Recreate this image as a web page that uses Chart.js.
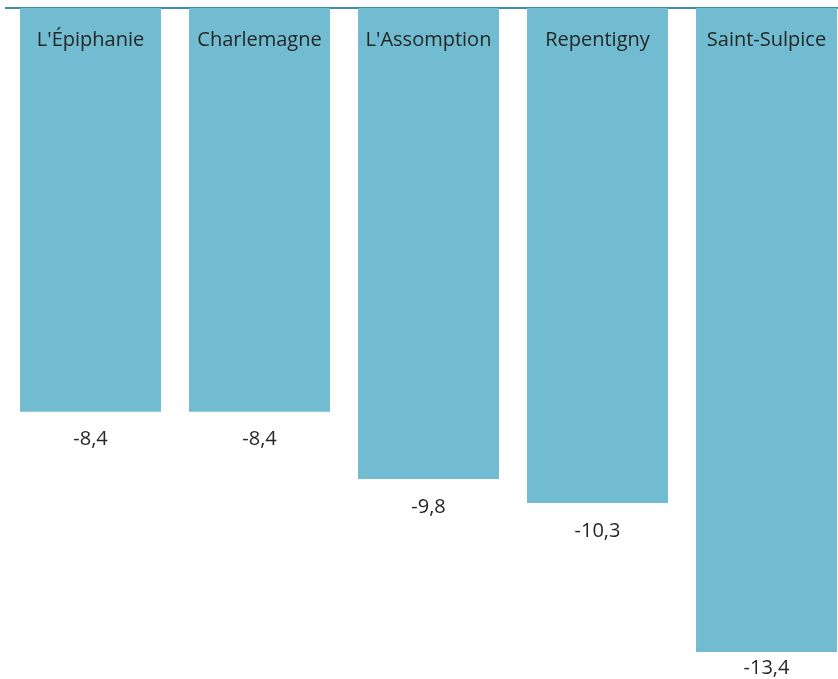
<!DOCTYPE html>
<html lang="fr">
<head>
    <meta charset="UTF-8">
    <title>Variation par municipalité</title>
    <script src="https://cdn.jsdelivr.net/npm/chart.js"></script>
    <style>
        body {
            margin: 0;
            overflow: hidden;
            background: #fff;
        }
        #wrap {
            width: 852px;
            height: 679px;
        }
    </style>
</head>
<body>
    <div id="wrap"><canvas id="chart" width="852" height="679"></canvas></div>

    <script>
        // Data
        const categories = ["L'Épiphanie", 'Charlemagne', "L'Assomption", 'Repentigny', 'Saint-Sulpice'];
        const values = [-8.4, -8.4, -9.8, -10.3, -13.4];

        const barColor = '#71bcd1';
        const axisColor = '#3d8ea3';
        const textColor = '#262626';
        const font = '20px "Open Sans", "Noto Sans", sans-serif';

        // names inside the bars, values under them
        const labelPlugin = {
            id: 'labels',
            afterDatasetsDraw(chart) {
                const ctx = chart.ctx;
                const meta = chart.getDatasetMeta(0);
                ctx.save();
                ctx.font = font;
                ctx.fillStyle = textColor;
                ctx.textAlign = 'center';
                ctx.textBaseline = 'middle';
                meta.data.forEach((bar, i) => {
                    ctx.fillText(categories[i], bar.x, bar.base + 32);
                    let y = Math.min(bar.y + 28, chart.height - 11);
                    ctx.fillText(String(values[i]).replace('.', ','), bar.x, y);
                });
                ctx.restore();
            }
        };

        new Chart(document.getElementById('chart'), {
            type: 'bar',
            data: {
                labels: categories,
                datasets: [{
                    data: values,
                    backgroundColor: barColor,
                    borderWidth: 0,
                    barPercentage: 0.834,
                    categoryPercentage: 1
                }]
            },
            options: {
                responsive: false,
                animation: false,
                layout: { padding: { left: 6, top: 8, bottom: 27, right: 1 } },
                plugins: {
                    legend: { display: false },
                    tooltip: { enabled: false }
                },
                scales: {
                    x: {
                        position: 'top',
                        grid: { display: false, drawTicks: false },
                        ticks: { display: false, padding: 0 },
                        border: { display: true, color: axisColor, width: 2 }
                    },
                    y: {
                        min: -13.4,
                        max: 0,
                        display: false
                    }
                }
            },
            plugins: [labelPlugin]
        });
    </script>
</body>
</html>
